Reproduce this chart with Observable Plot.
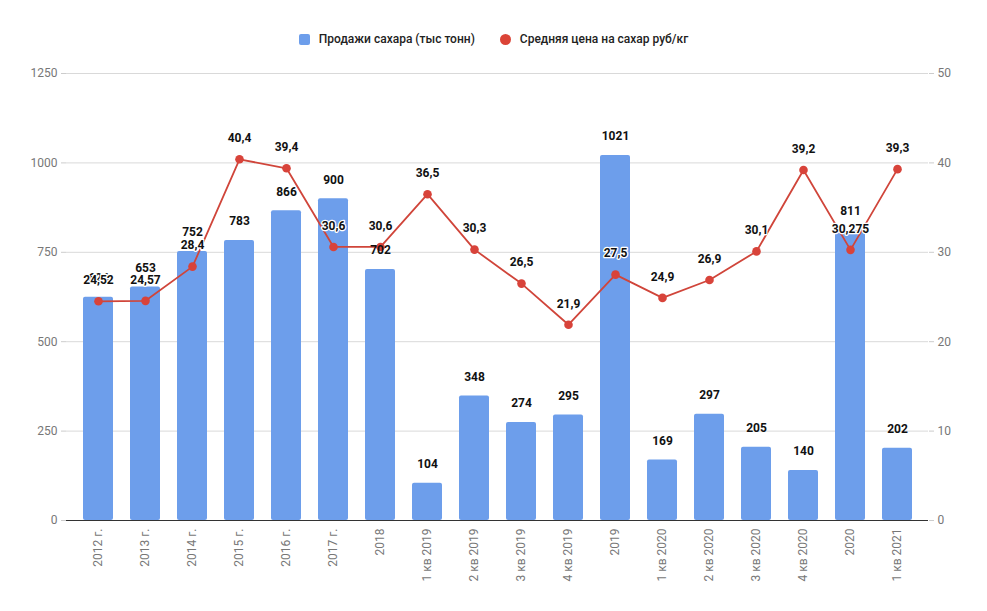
<!DOCTYPE html>
<html><head><meta charset="utf-8">
<script src="https://cdn.jsdelivr.net/npm/d3@7"></script>
<script src="https://cdn.jsdelivr.net/npm/@observablehq/plot@0.6"></script>
<style>
body{margin:0;background:#fff;font-family:Roboto,"Noto Sans",sans-serif;}
#legend{height:60px;display:flex;justify-content:center;align-items:flex-start;box-sizing:border-box;}
#legend .in{display:flex;align-items:center;margin-top:32px;font-size:12px;font-weight:500;color:#222;}
.sq{width:11px;height:11px;background:#6d9eeb;border-radius:2px;margin-right:9px;}
.ci{width:11px;height:11px;background:#db4437;border-radius:50%;margin-right:9px;margin-left:25px;}
</style></head><body>
<div id="legend"><div class="in"><span class="sq"></span><span>Продажи сахара (тыс тонн)</span><span class="ci"></span><span>Средняя цена на сахар руб/кг</span></div></div>
<div id="chart"></div>
<script>
const categories = ["2012 г.","2013 г.","2014 г.","2015 г.","2016 г.","2017 г.","2018","1 кв 2019","2 кв 2019","3 кв 2019","4 кв 2019","2019","1 кв 2020","2 кв 2020","3 кв 2020","4 кв 2020","2020","1 кв 2021"];
const sales = [624,653,752,783,866,900,702,104,348,274,295,1021,169,297,205,140,811,202];
const prices = [24.52,24.57,28.4,40.4,39.4,30.6,30.6,36.5,30.3,26.5,21.9,27.5,24.9,26.9,30.1,39.2,30.275,39.3];
const leftTicks = [0,250,500,750,1000,1250];
const rightTicks = [0,10,20,30,40,50];

const k = 1250/50;
const data = categories.map((c,i)=>({cat:c, sales:sales[i], price:prices[i], p:prices[i]*k}));
const fmt = v => String(v).replace(".", ",");

const chart = Plot.plot({
  width: 987, height: 551,
  marginTop: 13, marginBottom: 91, marginLeft: 66, marginRight: 59,
  style: {fontFamily: "Roboto, 'Noto Sans', sans-serif", fontSize: "12px"},
  x: {domain: categories, paddingInner: 0.364, paddingOuter: 0.32, label: null},
  y: {domain: [0,1250], label: null},
  marks: [
    Plot.gridY(leftTicks.slice(1), {stroke:"#d9d9d9", strokeOpacity:1}),
    Plot.axisY(leftTicks, {anchor:"left", tickSize:5, tickPadding:4, stroke:"#ccc", color:"#777", fontSize:12, label:null, tickFormat: d=>String(d)}),
    Plot.axisY(rightTicks.map(d=>d*k), {anchor:"right", tickSize:5, tickPadding:4, stroke:"#ccc", color:"#777", fontSize:12, label:null, tickFormat: d=>String(d/k)}),
    Plot.axisX({tickRotate:-90, tickSize:0, tickPadding:8, color:"#777", fontSize:12, label:null}),
    Plot.barY(data, {x:"cat", y:"sales", fill:"#6d9eeb", rx:2}),
    Plot.ruleY([0], {stroke:"#333"}),
    Plot.line(data, {x:"cat", y:"p", stroke:"#d0453a", strokeWidth:1.8}),
    Plot.dot(data, {x:"cat", y:"p", fill:"#d8433a", r:4.3}),
    Plot.text(data, {x:"cat", y:"sales", text:d=>String(d.sales), dy:-19, fontWeight:"bold", fontSize:12, fill:"#111"}),
    Plot.text(data, {x:"cat", y:"p", text:d=>fmt(d.price), dy:-21, fontWeight:"bold", fontSize:12, fill:"#111", stroke:"white", strokeWidth:2.5})
  ]
});
document.getElementById("chart").appendChild(chart);
</script>
</body></html>
